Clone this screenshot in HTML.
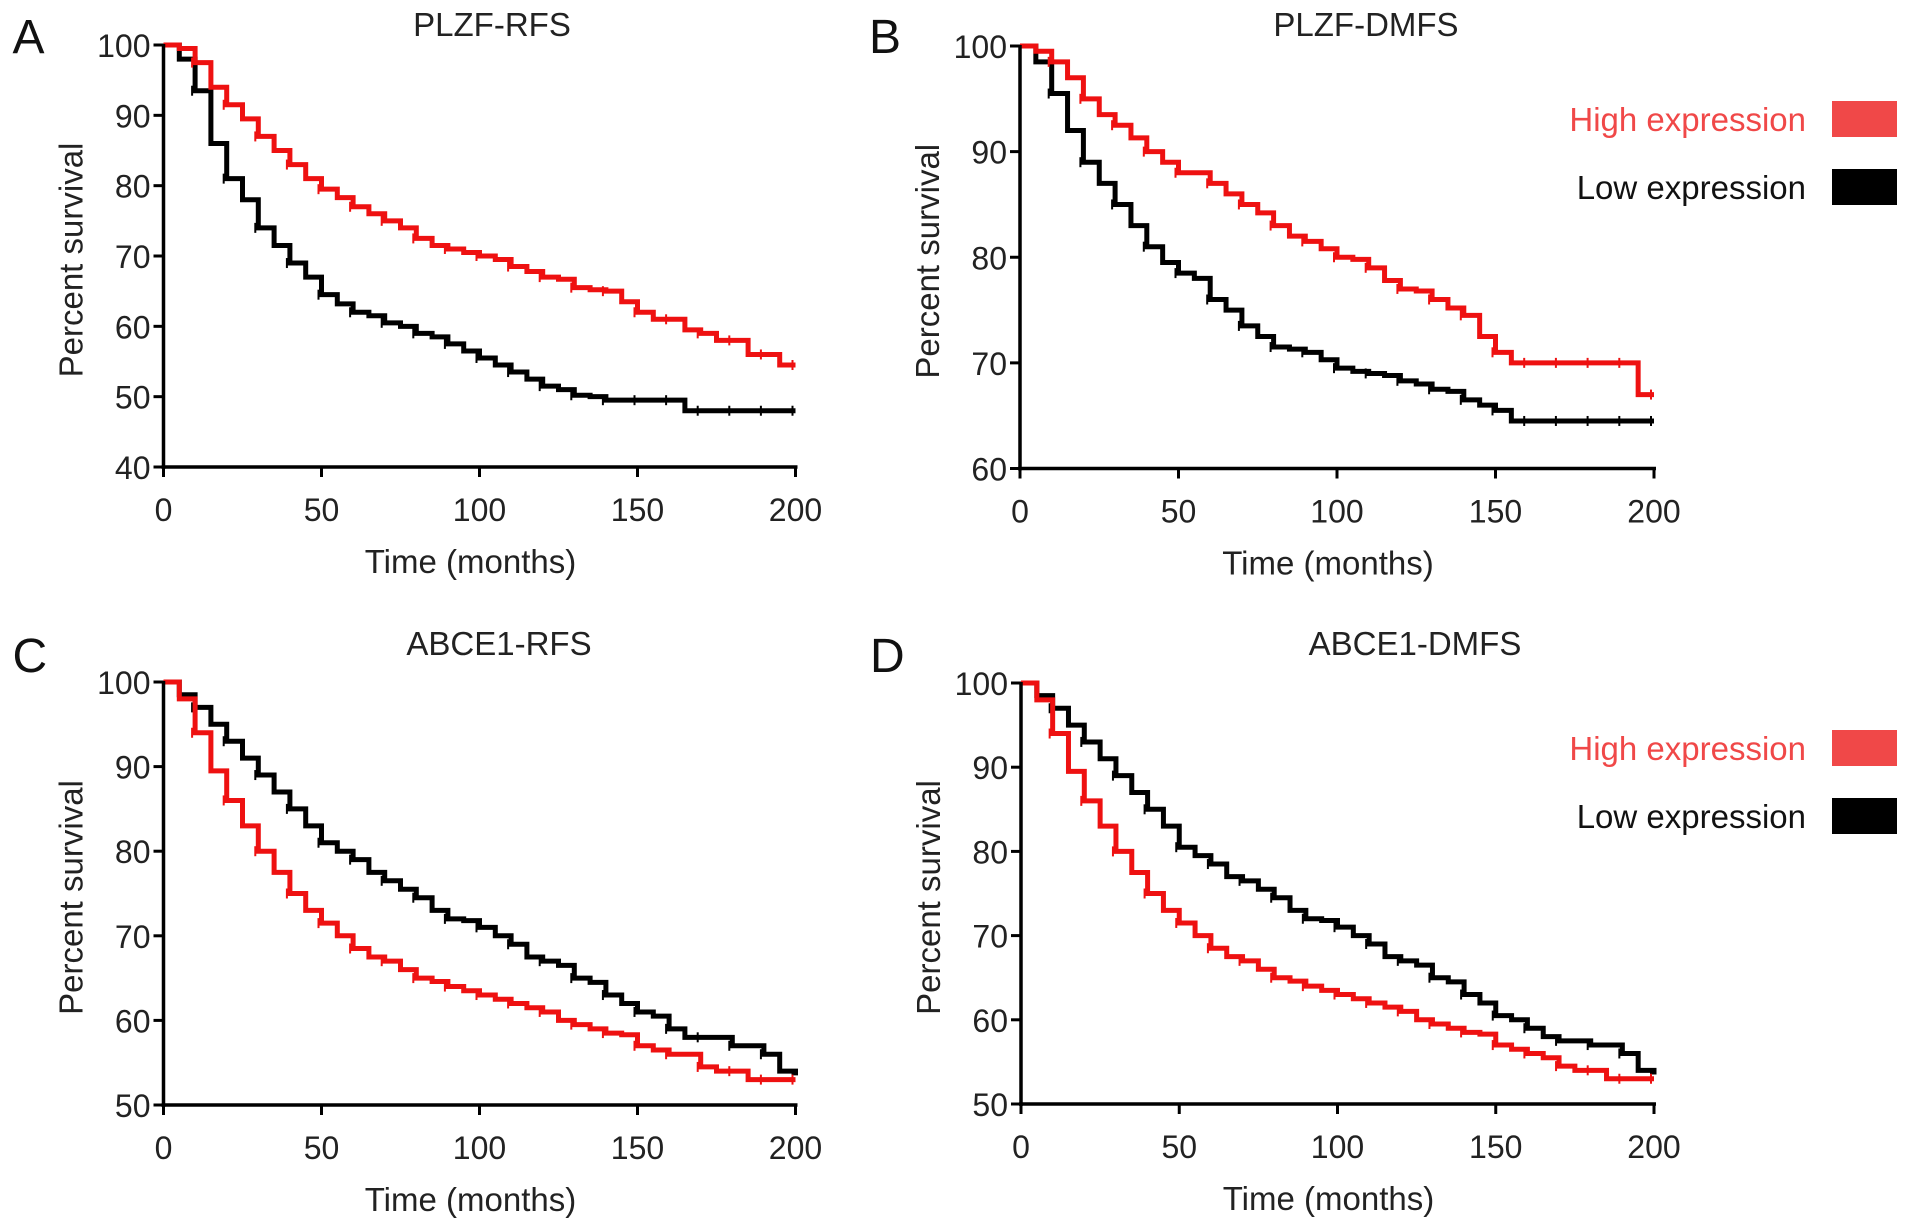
<!DOCTYPE html>
<html><head><meta charset="utf-8"><style>
html,body{margin:0;padding:0;background:#fff;}
svg{display:block;font-family:"Liberation Sans",Arial,sans-serif;}
</style></head><body>
<svg id="fig" width="1913" height="1227" viewBox="0 0 1913 1227"></svg>
<script>
const months = [0,5,10,15,20,25,30,35,40,45,50,55,60,65,70,75,80,85,90,95,100,105,110,115,120,125,130,135,140,145,150,155,160,165,170,175,180,185,190,195,200];
const aHigh = [100,99.5,97.5,94,91.5,89.5,87,85,83,81,79.5,78.3,77,76,75,74,72.5,71.5,71,70.5,70,69.5,68.5,67.8,67,66.7,65.5,65.2,65,63.5,62,61,61,59.5,59,58,58,56,56,54.5,54.5];
const aLow = [100,98,93.5,86,81,78,74,71.5,69,67,64.5,63.2,62,61.5,60.5,60,59,58.5,57.5,56.5,55.5,54.5,53.5,52.5,51.5,51,50.2,50,49.5,49.5,49.5,49.5,49.5,48,48,48,48,48,48,48,48];
const bHigh = [100,99.5,98.5,97,95,93.5,92.5,91.3,90,89,88,88,87,86,85,84.2,83,82,81.5,80.8,80,79.8,79,77.8,77,76.8,76,75.2,74.5,72.5,71,70,70,70,70,70,70,70,70,67,67];
const bLow = [100,98.5,95.5,92,89,87,85,83,81,79.5,78.5,78,76,75,73.5,72.5,71.5,71.3,71,70.3,69.5,69.2,69,68.8,68.3,68,67.5,67.3,66.5,66,65.5,64.5,64.5,64.5,64.5,64.5,64.5,64.5,64.5,64.5,64.5];
const cHigh = [100,98,94,89.5,86,83,80,77.5,75,73,71.5,70,68.5,67.5,67,66,65,64.6,64,63.5,63,62.5,62,61.5,61,60,59.5,59,58.5,58.3,57,56.5,56,56,54.5,54,54,53,53,53,53];
const cLow = [100,98.5,97,95,93,91,89,87,85,83,81,80,79,77.5,76.5,75.5,74.5,73,72,71.8,71,70,69,67.5,67,66.5,65,64.5,63,62,61,60.5,59,58,58,58,57,57,56,54,53.5];
const dHigh = [100,98,94,89.5,86,83,80,77.5,75,73,71.5,70,68.5,67.5,67,66,65,64.6,64,63.5,63,62.5,62,61.5,61,60,59.5,59,58.5,58.3,57,56.5,56,55.5,54.5,54,54,53,53,53,53];
const dLow = [100,98.5,97,95,93,91,89,87,85,83,80.5,79.5,78.5,77,76.5,75.5,74.5,73,72,71.8,71,70,69,67.5,67,66.5,65,64.5,63,62,60.5,60,59,58,57.5,57.5,57,57,56,54,53.5];
const xTicks = [0,50,100,150,200];
const yTicksA = [40,50,60,70,80,90,100];
const yTicksB = [60,70,80,90,100];
const yTicksC = [50,60,70,80,90,100];

const NS="http://www.w3.org/2000/svg";
const svg=document.getElementById('fig');
function mk(tag,attrs,parent){const e=document.createElementNS(NS,tag);for(const k in attrs)e.setAttribute(k,attrs[k]);(parent||svg).appendChild(e);return e;}

function panel(id,letter,title,titleX,titleY,x0,x1,yTop,yBot,ymin,ymax,yTicks,hi,lo,legendY){
  const g=mk('g',{});
  
  
  const sx=v=>x0+(v-0)/200*(x1-x0);
  const sy=v=>yBot-(v-ymin)/(ymax-ymin)*(yBot-yTop);
  const L=mk('text',{x:x0-151,y:titleY+17,'font-size':48,fill:'#111'},g);L.textContent=letter;
  
  
  const T=mk('text',{x:titleX,y:titleY,'font-size':33,'text-anchor':'middle',fill:'#222'},g);T.textContent=title;
  
  
  function series(vals,color,name){
    let d='M'+sx(months[0])+','+sy(vals[0]);
    for(let i=1;i<months.length;i++){d+=' H'+sx(months[i])+' V'+sy(vals[i]);}
    const p=mk('path',{d:d,fill:'none',stroke:color,'stroke-width':5},g);
    
    
    for(let i=2;i<months.length;i+=2){
      const t=mk('line',{x1:sx(months[i])-3,x2:sx(months[i])-3,y1:sy(vals[i])-5,y2:sy(vals[i])+5,stroke:color,'stroke-width':2},g);
      
      
    }
  }
  series(lo,'#000','low-expression-curve');
  series(hi,'#ee1111','high-expression-curve');
  const ya=mk('line',{x1:x0,x2:x0,y1:yTop-1,y2:yBot+2,stroke:'#000','stroke-width':3.5},g);
  
  
  const xa=mk('line',{x1:x0-2,x2:x1+2,y1:yBot,y2:yBot,stroke:'#000','stroke-width':3.5},g);
  
  
  yTicks.forEach(v=>{
    mk('line',{x1:x0-10,x2:x0,y1:sy(v),y2:sy(v),stroke:'#000','stroke-width':3},g);
    const t=mk('text',{x:x0-13,y:sy(v)+12,'font-size':32,'text-anchor':'end',fill:'#222'},g);t.textContent=v;
    
    
  });
  xTicks.forEach(v=>{
    mk('line',{x1:sx(v),x2:sx(v),y1:yBot,y2:yBot+10,stroke:'#000','stroke-width':3},g);
    const t=mk('text',{x:sx(v),y:yBot+54,'font-size':32,'text-anchor':'middle',fill:'#222'},g);t.textContent=v;
    
    
  });
  const xt=mk('text',{x:(x0+x1)/2-9,y:yBot+106,'font-size':33,'text-anchor':'middle',fill:'#222'},g);xt.textContent='Time (months)';
  
  
  const yc=(yTop+yBot)/2;
  const yt=mk('text',{x:0,y:0,'font-size':33,'text-anchor':'middle',fill:'#222',transform:`translate(${x0-81},${yc+4}) rotate(-90)`},g);yt.textContent='Percent survival';
  
  
  if(legendY!==null){
    const lg=mk('g',{},g);
    
    
    const t1=mk('text',{x:1806,y:legendY+12,'font-size':33,'text-anchor':'end',fill:'#f04848'},lg);t1.textContent='High expression';
    
    
    const r1=mk('rect',{x:1832,y:legendY-18,width:65,height:36,fill:'#f04848'},lg);
    
    
    const t2=mk('text',{x:1806,y:legendY+80,'font-size':33,'text-anchor':'end',fill:'#111'},lg);t2.textContent='Low expression';
    
    
    const r2=mk('rect',{x:1832,y:legendY+50,width:65,height:36,fill:'#000'},lg);
    
    
  }
}
panel('a','A','PLZF-RFS',492,36,163.5,795.5,45,467,40,100,yTicksA,aHigh,aLow,null);
panel('b','B','PLZF-DMFS',1366,36,1020,1654,46,468.5,60,100,yTicksB,bHigh,bLow,119);
panel('c','C','ABCE1-RFS',499,655,163.5,795.5,682,1105,50,100,yTicksC,cHigh,cLow,null);
panel('d','D','ABCE1-DMFS',1415,655,1021,1654,683,1104,50,100,yTicksC,dHigh,dLow,748);
</script>
</body></html>
